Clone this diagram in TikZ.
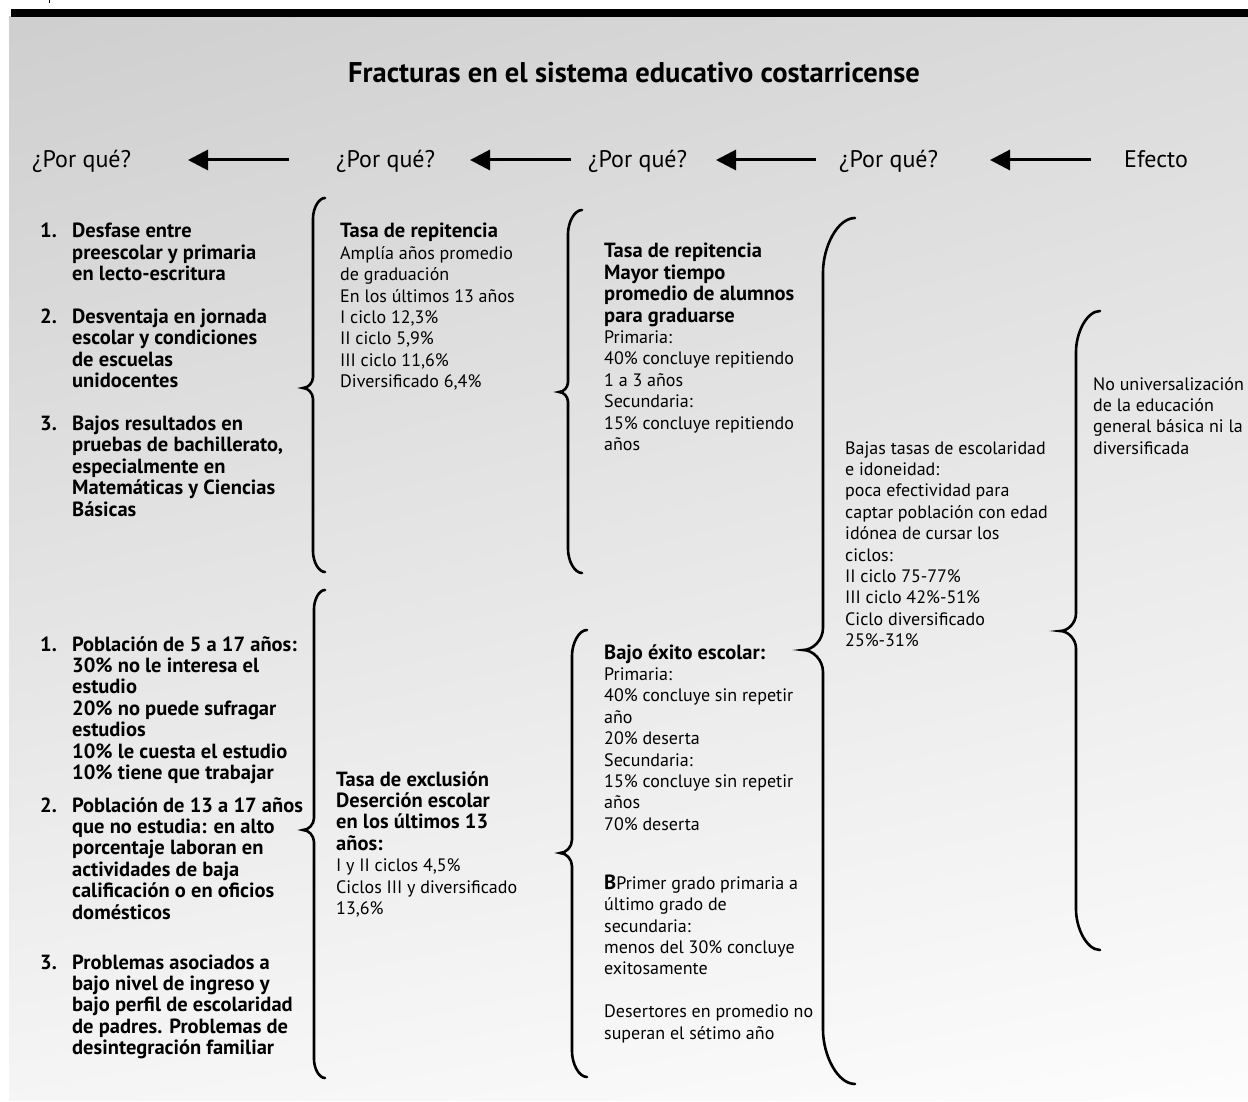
\documentclass[tikz,border=0pt]{standalone}
\usepackage{fontspec}
\setmainfont{PT Sans}
\usetikzlibrary{arrows.meta, shadings}

\tikzset{
  bracel/.style={line width=2.6pt, line cap=round},
  hdarrow/.style={line width=3pt, -{Triangle[length=20pt,width=20pt]}},
  hdtext/.style={anchor=base west, inner sep=0pt, font=\fontsize{24}{28}\selectfont},
  txt/.style={anchor=base west, inner sep=0pt, font=\fontsize{18}{21.4}\selectfont},
  btxt/.style={anchor=base west, inner sep=0pt, font=\fontsize{20.5}{21.4}\selectfont\bfseries},
}

\newcommand{\bfl}[1]{{\fontsize{20.5}{21.4}\selectfont\bfseries #1}}

\newcommand{\curlybrace}[6]{%
  \draw[bracel] (#1,#4)
    .. controls ({#2+0.45*(#1-#2)},#4) and (#2,{#4+0.9*(#1-#2)}) .. (#2,{#4+1.7*(#1-#2)})
    -- (#2,{#5-1.1*(#2-#3)})
    .. controls (#2,{#5-0.5*(#2-#3)}) and ({#3+0.5*(#2-#3)},#5) .. (#3,#5)
    .. controls ({#3+0.5*(#2-#3)},#5) and (#2,{#5+0.5*(#2-#3)}) .. (#2,{#5+1.1*(#2-#3)})
    -- (#2,{#6-1.7*(#1-#2)})
    .. controls (#2,{#6-0.9*(#1-#2)}) and ({#2+0.45*(#1-#2)},#6) .. (#1,#6);}

\begin{document}
\begin{tikzpicture}[x=1pt, y=-1pt]
    \useasboundingbox (0, 0) rectangle (1248, 1102);
    \shade[upper left=black!19, upper right=black!14, lower left=black!4, lower right=black!1]
      (9, 17) rectangle (1248, 1100);
    \fill[black] (11, 9) rectangle (1248, 17);
    \draw[line width=1pt] (49, 0) -- (49, 3);

    \node[anchor=base, inner sep=0pt, font=\fontsize{28.5}{32}\selectfont\bfseries] (title) at (634, 83)
      {Fracturas en el sistema educativo costarricense};

    \node[hdtext] (pq1) at (32, 168) {¿Por qué?};
    \node[hdtext] (pq2) at (336, 168) {¿Por qué?};
    \node[hdtext] (pq3) at (588, 168) {¿Por qué?};
    \node[hdtext] (pq4) at (839, 168) {¿Por qué?};
    \node[hdtext] (efecto) at (1124, 168) {Efecto};

    \coordinate (a1s) at (289, 160); \coordinate (a1e) at (188, 160);
    \coordinate (a2s) at (571, 160); \coordinate (a2e) at (470, 160);
    \coordinate (a3s) at (816, 160); \coordinate (a3e) at (716, 160);
    \coordinate (a4s) at (1091, 160); \coordinate (a4e) at (990, 160);
    \draw[hdarrow] (a1s) -- (a1e);
    \draw[hdarrow] (a2s) -- (a2e);
    \draw[hdarrow] (a3s) -- (a3e);
    \draw[hdarrow] (a4s) -- (a4e);

    \node[btxt] (causas1) at (40, 238) {\begin{tabular}[t]{@{}p{32pt}@{}l@{}}
      1. & Desfase entre\\
         & preescolar y primaria\\
         & en lecto-escritura\\
      \\
      2. & Desventaja en jornada\\
         & escolar y condiciones\\
         & de escuelas\\
         & unidocentes\\
      \\
      3. & Bajos resultados en\\
         & pruebas de bachillerato,\\
         & especialmente en\\
         & Matemáticas y Ciencias\\
         & Básicas
    \end{tabular}};

    \node[btxt] (causas2) at (40, 651) {\begin{tabular}[t]{@{}p{32pt}@{}l@{}}
      1. & Población de 5 a 17 años:\\
         & 30\% no le interesa el\\
         & estudio\\
         & 20\% no puede sufragar\\
         & estudios\\
         & 10\% le cuesta el estudio\\
         & 10\% tiene que trabajar\\[11.2pt]
      2. & Población de 13 a 17 años\\
         & que no estudia: en alto\\
         & porcentaje laboran en\\
         & actividades de baja\\
         & calificación o en oficios\\
         & domésticos\\[28.6pt]
      3. & Problemas asociados a\\
         & bajo nivel de ingreso y\\
         & bajo perfil de escolaridad\\
         & de padres. Problemas de\\
         & desintegración familiar
    \end{tabular}};

    \node[txt] (repite1) at (340, 238) {\begin{tabular}[t]{@{}l@{}}
      \bfl{Tasa de repitencia}\\
      Amplía años promedio\\
      de graduación\\
      En los últimos 13 años\\
      I ciclo 12,3\%\\
      II ciclo 5,9\%\\
      III ciclo 11,6\%\\
      Diversificado 6,4\%
    \end{tabular}};

    \node[txt] (exclusion) at (336, 786) {\begin{tabular}[t]{@{}l@{}}
      \bfl{Tasa de exclusión}\\
      \bfl{Deserción escolar}\\
      \bfl{en los últimos 13}\\
      \bfl{años:}\\
      I y II ciclos 4,5\%\\
      Ciclos III y diversificado\\
      13,6\%
    \end{tabular}};

    \node[txt] (repite2) at (604, 258) {\begin{tabular}[t]{@{}l@{}}
      \bfl{Tasa de repitencia}\\
      \bfl{Mayor tiempo}\\
      \bfl{promedio de alumnos}\\
      \bfl{para graduarse}\\
      Primaria:\\
      40\% concluye repitiendo\\
      1 a 3 años\\
      Secundaria:\\
      15\% concluye repitiendo\\
      años
    \end{tabular}};

    \node[txt] (exito) at (604, 659) {\begin{tabular}[t]{@{}l@{}}
      \bfl{Bajo éxito escolar:}\\
      Primaria:\\
      40\% concluye sin repetir\\
      año\\
      20\% deserta\\
      Secundaria:\\
      15\% concluye sin repetir\\
      años\\
      70\% deserta\\[37.6pt]
      \bfl{B}Primer grado primaria a\\
      último grado de\\
      secundaria:\\
      menos del 30\% concluye\\
      exitosamente\\
      \\
      Desertores en promedio no\\
      superan el sétimo año
    \end{tabular}};

    \node[txt] (bajas) at (845, 454) {\begin{tabular}[t]{@{}l@{}}
      Bajas tasas de escolaridad\\
      e idoneidad:\\
      poca efectividad para\\
      captar población con edad\\
      idónea de cursar los\\
      ciclos:\\
      II ciclo 75-77\%\\
      III ciclo 42\%-51\%\\
      Ciclo diversificado\\
      25\%-31\%
    \end{tabular}};

    \node[txt] (nouniv) at (1093, 390) {\begin{tabular}[t]{@{}l@{}}
      No universalización\\
      de la educación\\
      general básica ni la\\
      diversificada
    \end{tabular}};

    \curlybrace{325}{313}{303}{198}{388}{572}
    \curlybrace{582}{568}{559}{210}{392}{573}
    \curlybrace{855}{823}{803}{218}{650}{1084}
    \curlybrace{587}{572}{560}{630}{853}{1077}
    \curlybrace{1100}{1076}{1060}{311}{631}{950}
    \curlybrace{325}{314}{303}{590}{830}{1078}
\end{tikzpicture}
\end{document}
